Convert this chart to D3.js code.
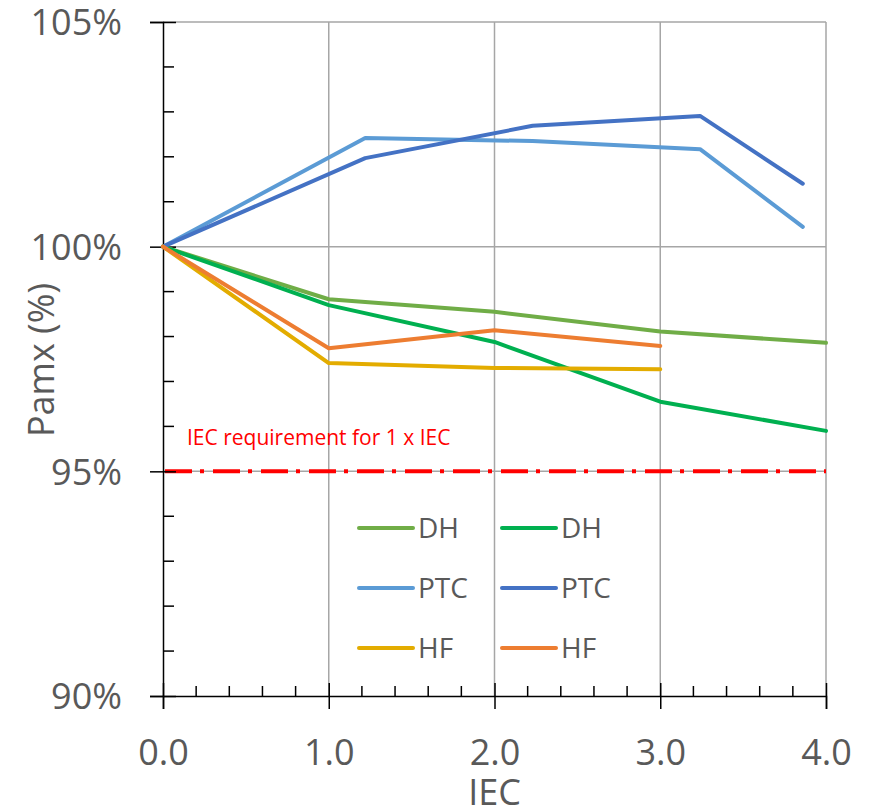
<!DOCTYPE html>
<html>
<head>
<meta charset="utf-8">
<script src="https://cdn.jsdelivr.net/npm/d3@7"></script>
<style>
  body { margin: 0; background: #fff; }
  svg text { font-family: "Open Sans", sans-serif; }
</style>
</head>
<body>
<div id="chart"></div>
<script>
// Data
const xTicks = [0, 1, 2, 3, 4];
const yTicks = [90, 95, 100, 105];

const dhLightX = [0, 1, 2, 3, 4];
const dhLightY = [100, 98.83, 98.55, 98.11, 97.86];
const dhDarkX = [0, 1, 2, 3, 4];
const dhDarkY = [100, 98.7, 97.88, 96.55, 95.9];
const ptcLightX = [0, 1.22, 2.23, 3.24, 3.86];
const ptcLightY = [100, 102.42, 102.35, 102.17, 100.44];
const ptcDarkX = [0, 1.22, 2.23, 3.24, 3.86];
const ptcDarkY = [100, 101.97, 102.69, 102.91, 101.4];
const hfYellowX = [0, 1, 2, 3];
const hfYellowY = [100, 97.41, 97.3, 97.27];
const hfOrangeX = [0, 1, 2, 3];
const hfOrangeY = [100, 97.74, 98.14, 97.79];

const requirement = 95;
const requirementLabel = "IEC requirement for 1 x IEC";

const series = [
  { name: "DH", color: "#70AD47", xs: dhLightX, ys: dhLightY, col: 0, row: 0 },
  { name: "DH", color: "#00B050", xs: dhDarkX, ys: dhDarkY, col: 1, row: 0 },
  { name: "PTC", color: "#5B9BD5", xs: ptcLightX, ys: ptcLightY, col: 0, row: 1 },
  { name: "PTC", color: "#4472C4", xs: ptcDarkX, ys: ptcDarkY, col: 1, row: 1 },
  { name: "HF", color: "#E3AC00", xs: hfYellowX, ys: hfYellowY, col: 0, row: 2 },
  { name: "HF", color: "#ED7D31", xs: hfOrangeX, ys: hfOrangeY, col: 1, row: 2 },
];

const width = 877, height = 812;
const margin = { top: 22, right: 51, bottom: 116, left: 163 };
const textColor = "#595959";
const axisFont = 36;

const x = d3.scaleLinear().domain([0, 4]).range([margin.left, width - margin.right]);
const y = d3.scaleLinear().domain([90, 105]).range([height - margin.bottom, margin.top]);

const svg = d3.select("#chart").append("svg")
  .attr("width", width)
  .attr("height", height)
  .attr("viewBox", [0, 0, width, height]);

// Gridlines
svg.append("g")
  .attr("stroke", "#A6A6A6")
  .attr("stroke-width", 1.5)
  .call((g) => g.selectAll("line.v").data(xTicks.slice(1)).join("line")
    .attr("class", "v")
    .attr("x1", (d) => x(d)).attr("x2", (d) => x(d))
    .attr("y1", y(105)).attr("y2", y(90)))
  .call((g) => g.selectAll("line.h").data([95, 100, 105]).join("line")
    .attr("class", "h")
    .attr("x1", x(0)).attr("x2", x(4))
    .attr("y1", (d) => y(d)).attr("y2", (d) => y(d)));

// Requirement line (dash-dot)
svg.append("line")
  .attr("x1", x(0) + 2).attr("x2", x(4))
  .attr("y1", y(requirement)).attr("y2", y(requirement))
  .attr("stroke", "#FF0000")
  .attr("stroke-width", 4)
  .attr("stroke-dasharray", "27 8 4 9");

svg.append("text")
  .attr("x", 187)
  .attr("y", 445)
  .attr("fill", "#FF0000")
  .attr("font-size", 21)
  .text(requirementLabel);

// Y axis
const yAxis = svg.append("g")
  .attr("transform", `translate(${x(0)},0)`)
  .call(d3.axisLeft(y).tickValues(yTicks).tickFormat((d) => d + "%").tickSize(13).tickPadding(28))
  .call((g) => g.select(".domain").attr("stroke", "#000").attr("stroke-width", 1.5))
  .call((g) => g.selectAll(".tick line").attr("x2", -13).attr("x1", 13).attr("stroke", "#000").attr("stroke-width", 1.5))
  .call((g) => g.selectAll(".tick text").attr("fill", textColor).attr("font-size", axisFont)
    .attr("dy", "0.36em")
    .style("font-family", '"Open Sans", sans-serif'));

yAxis.selectAll("line.minor")
  .data(d3.range(91, 105).filter((d) => d % 5 !== 0))
  .join("line")
  .attr("class", "minor")
  .attr("x1", 0).attr("x2", 11)
  .attr("y1", (d) => y(d)).attr("y2", (d) => y(d))
  .attr("stroke", "#000").attr("stroke-width", 1.5);

// X axis
const xAxis = svg.append("g")
  .attr("transform", `translate(0,${y(90)})`)
  .call(d3.axisBottom(x).tickValues(xTicks).tickFormat(d3.format(".1f")).tickSize(13).tickPadding(30))
  .call((g) => g.select(".domain").attr("stroke", "#000").attr("stroke-width", 1.5))
  .call((g) => g.selectAll(".tick line").attr("y1", -13).attr("y2", 13).attr("stroke", "#000").attr("stroke-width", 1.5))
  .call((g) => g.selectAll(".tick text").attr("fill", textColor).attr("font-size", axisFont)
    .style("font-family", '"Open Sans", sans-serif'));

xAxis.selectAll("line.minor")
  .data(d3.range(0, 20).map((i) => i / 5).filter((d) => !Number.isInteger(d)))
  .join("line")
  .attr("class", "minor")
  .attr("x1", (d) => x(d)).attr("x2", (d) => x(d))
  .attr("y1", 0).attr("y2", -10)
  .attr("stroke", "#000").attr("stroke-width", 1.5);

// Axis titles
svg.append("text")
  .attr("x", x(2))
  .attr("y", 805)
  .attr("text-anchor", "middle")
  .attr("fill", textColor)
  .attr("font-size", axisFont)
  .text("IEC");

svg.append("text")
  .attr("transform", `translate(54,360) rotate(-90)`)
  .attr("text-anchor", "middle")
  .attr("fill", textColor)
  .attr("font-size", axisFont)
  .text("Pamx (%)");

// Series lines
const line = d3.line().x((d) => x(d[0])).y((d) => y(d[1]));

svg.append("g")
  .attr("fill", "none")
  .attr("stroke-width", 4)
  .attr("stroke-linejoin", "round")
  .attr("stroke-linecap", "round")
  .selectAll("path")
  .data(series)
  .join("path")
  .attr("d", (s) => line(d3.zip(s.xs, s.ys)))
  .attr("stroke", (s) => s.color);

// Legend
const legend = svg.append("g")
  .selectAll("g")
  .data(series)
  .join("g")
  .attr("transform", (s) => `translate(${359 + s.col * 143},${528 + s.row * 60})`);

legend.append("line")
  .attr("x1", 0).attr("x2", 54)
  .attr("stroke", (s) => s.color)
  .attr("stroke-width", 4)
  .attr("stroke-linecap", "round");

legend.append("text")
  .attr("x", 59)
  .attr("dy", "0.36em")
  .attr("fill", textColor)
  .attr("font-size", 28)
  .text((s) => s.name);
</script>
</body>
</html>
